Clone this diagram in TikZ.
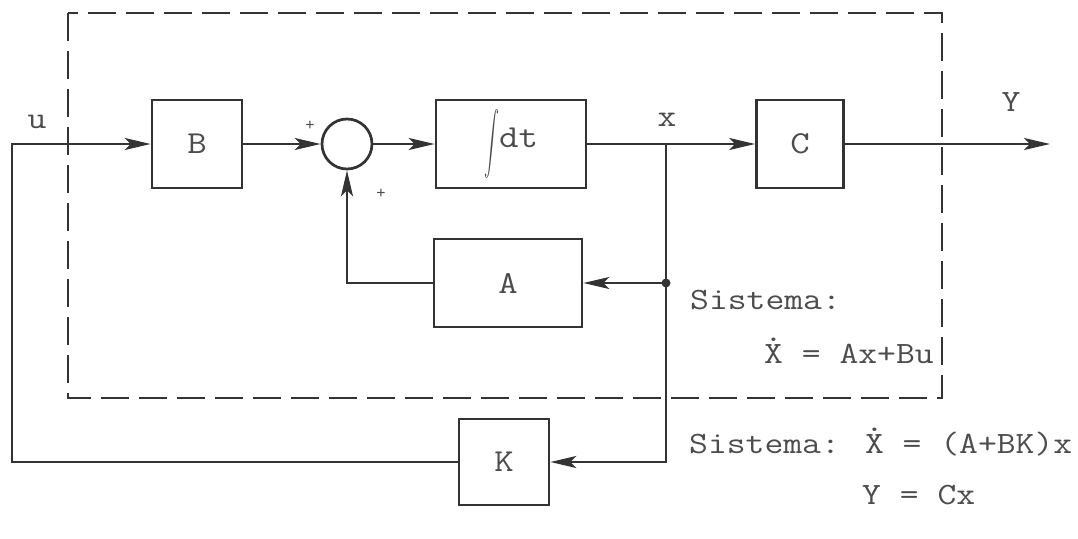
\documentclass[tikz,border=0pt]{standalone}
\usepackage{fontspec}
\usepackage{graphicx}
\usetikzlibrary{arrows.meta}
\definecolor{ink}{rgb}{0.2,0.2,0.2}
\definecolor{txt}{rgb}{0.3,0.3,0.3}
\newcommand\xdotted{\ooalign{X\cr\hidewidth\raisebox{0.7em}{.}\hidewidth\cr}}
\newcommand\widetxt[1]{\scalebox{1.18}[1]{#1}}
\begin{document}
\begin{tikzpicture}[x=1pt,y=-1pt,
  every node/.style={text=txt},
  line/.style={draw=ink,line width=2.7pt},
  arr/.style={line,-{Stealth[length=26pt,width=12pt,inset=6pt]}},
  blockbox/.style={draw=ink,line width=2.7pt,minimum width=#1,minimum height=88pt,inner sep=0pt,font=\ttfamily\fontsize{32}{34}\selectfont},
  sumnode/.style={circle,draw=ink,line width=2.7pt,minimum size=50pt,inner sep=0pt},
  lbl/.style={font=\ttfamily\fontsize{31}{33}\selectfont,inner sep=0pt},
  sgn/.style={font=\ttfamily\fontsize{18}{20}\selectfont,inner sep=0pt},
  eqn/.style={font=\ttfamily\fontsize{31}{34}\selectfont,inner sep=0pt,anchor=west},
  frame/.style={draw=ink,line width=2.7pt,dash pattern=on 28pt off 10pt}
]
\useasboundingbox (0,0) rectangle (1078,538);
% system frame
\draw[frame] (68,13) rectangle (942,398);
% blocks
\node[blockbox=90pt] (B) at (197,144) {\widetxt{B}};
\node[sumnode] (S) at (347,144) {};
\node[blockbox=150pt] (I) at (511,144) {\raisebox{-0.5em}{\scalebox{1.5}[3.1]{$\displaystyle\int$}}\widetxt{dt}};
\node[blockbox=87pt] (C) at (800,144) {\widetxt{C}};
\node[blockbox=148pt] (A) at (508,283) {\widetxt{A}};
\node[blockbox=90pt,minimum height=86pt] (K) at (504,462) {\widetxt{K}};
% coordinates
\coordinate (uc) at (12,144);
\coordinate (xj) at (666,144);
\coordinate (xd) at (666,283);
\coordinate (yo) at (1050,144);
% connectors
\draw[arr] (K.west) -| (uc) -- (B.west);
\draw[arr] (B.east) -- (S.west);
\draw[arr] (S.east) -- (I.west);
\draw[line] (I.east) -- (xj);
\draw[arr] (xj) -- (C.west);
\draw[arr] (C.east) -- (yo);
\draw[arr] (xd) -- (A.east);
\draw[arr] (A.west) -| (S.south);
\draw[arr] (xj) |- (K.east);
\fill[ink] (xd) circle (4.5pt);
% labels
\node[lbl] (lu) at (37,122) {\widetxt{u}};
\node[lbl] (lx) at (667,120) {\widetxt{x}};
\node[lbl] (lY) at (1011,102) {\widetxt{Y}};
\node[sgn] (p1) at (310,126) {+};
\node[sgn] (p2) at (381,194) {+};
% equations
\node[eqn] (e1) at (690,300) {\widetxt{Sistema:}};
\node[eqn] (e2) at (764,354) {\widetxt{\xdotted{} = Ax+Bu}};
\node[eqn] (e3) at (689,444) {\widetxt{Sistema: \xdotted{} = (A+BK)x}};
\node[eqn] (e4) at (862,495) {\widetxt{Y = Cx}};
\end{tikzpicture}
\end{document}
